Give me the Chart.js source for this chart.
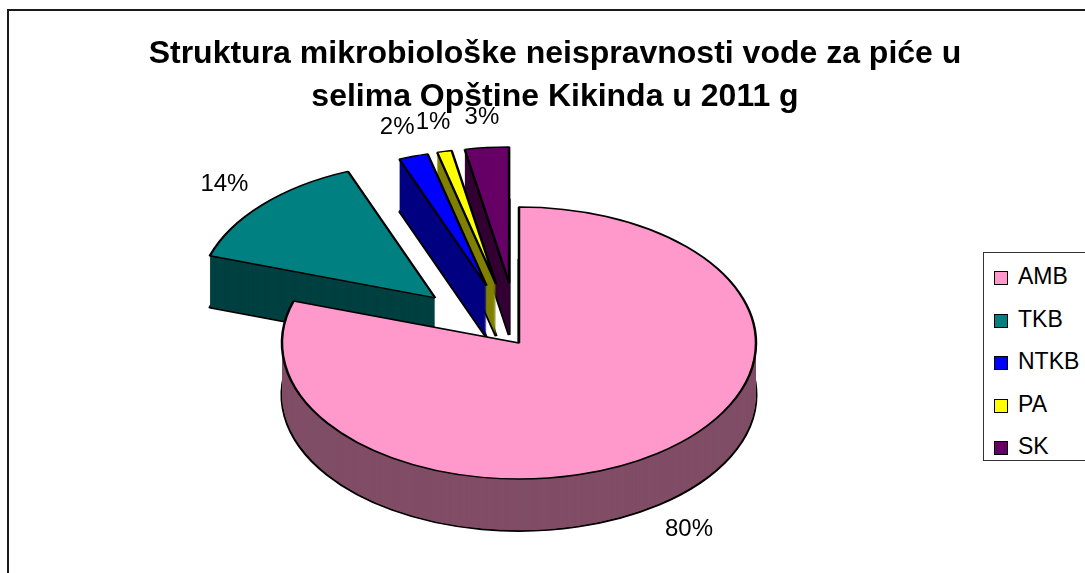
<!DOCTYPE html>
<html>
<head>
<meta charset="utf-8">
<script src="https://cdn.jsdelivr.net/npm/chart.js@4.4.0/dist/chart.umd.min.js"></script>
<style>
  html, body { margin: 0; padding: 0; background: #fff; overflow: hidden; }
  #wrap { position: relative; width: 1085px; height: 573px; overflow: hidden; font-family: "Liberation Sans", Arial, sans-serif; color: #000; }
  #frame { position: absolute; left: 7px; top: 9px; width: 1200px; height: 700px; border: 2px solid #1a1a1a; }
  #title { position: absolute; left: 0; top: 31px; width: 1110px; text-align: center; font-weight: bold; font-size: 32px; line-height: 43px; }
  #legend { position: absolute; left: 983px; top: 252px; width: 130px; height: 207px; border: 1px solid #333; background: #fff; }
  .item { position: absolute; left: 10px; height: 26px; font-size: 23px; line-height: 26px; white-space: nowrap; }
  .box { display: inline-block; width: 12px; height: 12px; border: 1px solid #000; margin-right: 10px; vertical-align: -1px; }
  canvas { position: absolute; left: 0; top: 0; }
</style>
</head>
<body>
<div id="wrap">
  <div id="frame"></div>
  <canvas id="chart" width="1085" height="573"></canvas>
  <div id="title">Struktura mikrobiološke neispravnosti vode za piće u<br>selima Opštine Kikinda u 2011 g</div>
  <div id="legend"></div>
</div>
<script>
// data
const categories = ['AMB', 'TKB', 'NTKB', 'PA', 'SK'];
const shares = [80, 14, 2, 1, 3];

// colours: top face and darker side wall
const topColors = ['#FF99CC', '#008080', '#0000FF', '#FFFF00', '#660066'];
const sideColors = ['#804D66', '#004040', '#000080', '#808000', '#330033'];

// legend (html, like the excel box)
const legend = document.getElementById('legend');
categories.forEach((c, i) => {
    const el = document.createElement('div');
    el.className = 'item';
    el.style.top = (10 + i * 42.5) + 'px';
    el.innerHTML = '<span class="box" style="background:' + topColors[i] + '"></span>' + c;
    legend.appendChild(el);
});

// fake 3d: squash the pie, push exploded slices out, stack darker copies for the rim
const pie3d = {
    id: 'pie3d',
    _shift(arc, i, opts) {
        const mid = (arc.startAngle + arc.endAngle) / 2;
        const e = opts.explode[i] || 0;
        return { mid: mid, dx: Math.cos(mid) * e, dy: Math.sin(mid) * e * opts.tilt };
    },
    beforeDatasetsDraw(chart, args, opts) {
        const ctx = chart.ctx;
        const arcs = chart.getDatasetMeta(0).data;
        if (!arcs.length) return;
        const cx = arcs[0].x, cy = arcs[0].y;
        const k = opts.tilt;

        const drawArc = (arc, dx, dy, over) => {
            ctx.save();
            ctx.translate(cx + dx, cy + dy);
            ctx.scale(1, k);
            ctx.translate(-cx, -cy);
            const orig = arc.options;
            if (over) arc.options = Object.assign({}, orig, over);
            arc.draw(ctx);
            arc.options = orig;
            ctx.restore();
        };

        // back to front
        const order = arcs.map((a, i) => i).sort((a, b) => {
            const sa = this._shift(arcs[a], a, opts), sb = this._shift(arcs[b], b, opts);
            return (sa.dy + Math.sin(sa.mid) * 60) - (sb.dy + Math.sin(sb.mid) * 60);
        });

        order.forEach(i => {
            const arc = arcs[i];
            const s = this._shift(arc, i, opts);
            const side = opts.sideColors[i];
            drawArc(arc, s.dx, s.dy + opts.depth, { backgroundColor: side, borderColor: '#000', borderWidth: 3 });
            for (let d = opts.depth - 1; d >= 1; d--) {
                drawArc(arc, s.dx, s.dy + d, { backgroundColor: side, borderColor: side, borderWidth: 0 });
            }
            drawArc(arc, s.dx, s.dy, null);
        });
        return false;
    },
    afterDraw(chart, args, opts) {
        const ctx = chart.ctx;
        const arcs = chart.getDatasetMeta(0).data;
        if (!arcs.length) return;
        const cx = arcs[0].x, cy = arcs[0].y;
        const vals = chart.data.datasets[0].data;
        ctx.save();
        ctx.font = opts.font;
        ctx.fillStyle = '#000';
        ctx.textAlign = 'center';
        ctx.textBaseline = 'middle';
        arcs.forEach((arc, i) => {
            const s = this._shift(arc, i, opts);
            const R = arc.outerRadius * opts.labelRadius;
            const x = cx + s.dx + Math.cos(s.mid) * R;
            const y = cy + s.dy + Math.sin(s.mid) * R * opts.tilt + (Math.sin(s.mid) > 0 ? opts.depth : 0);
            ctx.fillText(vals[i] + '%', x, y);
        });
        ctx.restore();
    }
};

new Chart(document.getElementById('chart'), {
    type: 'pie',
    data: {
        labels: categories,
        datasets: [{
            data: shares,
            backgroundColor: topColors,
            borderColor: '#000',
            borderWidth: 2.5
        }]
    },
    options: {
        responsive: false,
        animation: false,
        events: [],
        radius: 237,
        layout: { padding: { top: 113, bottom: 0, left: 0, right: 47 } },
        plugins: {
            legend: { display: false },
            tooltip: { enabled: false },
            pie3d: {
                tilt: 0.574,
                depth: 52,
                explode: [0, 115, 105, 105, 105],
                sideColors: sideColors,
                labelRadius: 1.22,
                font: '24px "Liberation Sans", Arial, sans-serif'
            }
        }
    },
    plugins: [pie3d]
});
</script>
</body>
</html>
